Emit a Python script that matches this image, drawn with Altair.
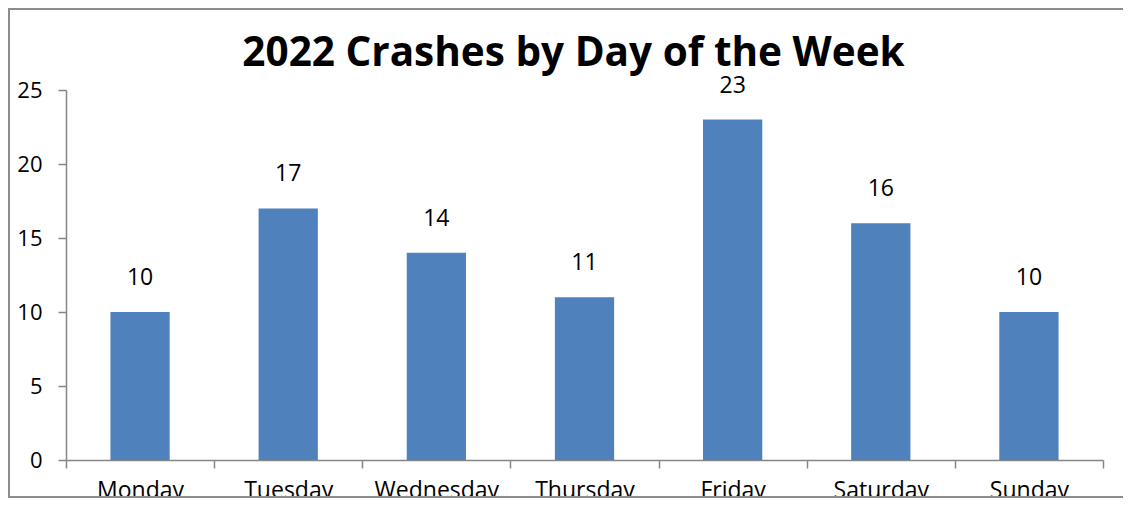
import altair as alt
import pandas as pd

days = ["Monday", "Tuesday", "Wednesday", "Thursday", "Friday", "Saturday", "Sunday"]
crashes = [10, 17, 14, 11, 23, 16, 10]
title_text = "2022 Crashes by Day of the Week"

df = pd.DataFrame({"day": days, "crashes": crashes})

FONT = "Open Sans"
GRAY = "#868686"
FRAME = "#8c8c8c"

base = alt.Chart(df)

x_enc = alt.X(
    "day:N",
    sort=days,
    scale=alt.Scale(paddingInner=0, paddingOuter=0),
    axis=alt.Axis(
        title=None,
        labelAngle=0,
        tickBand="extent",
        tickSize=8,
        tickWidth=1.5,
        tickColor=GRAY,
        domainColor=GRAY,
        domainWidth=1.5,
        labelPadding=11,
        labelFontSize=23,
        labelFont=FONT,
        labelColor="black",
    ),
)
y_enc = alt.Y(
    "crashes:Q",
    scale=alt.Scale(domain=[0, 25], nice=False),
    axis=alt.Axis(
        title=None,
        values=[0, 5, 10, 15, 20, 25],
        grid=False,
        tickSize=8,
        tickWidth=1.5,
        tickColor=GRAY,
        domainColor=GRAY,
        domainWidth=1.5,
        labelPadding=16,
        labelFontSize=22,
        labelFont=FONT,
        labelColor="black",
    ),
)

bars = base.mark_bar(color="#4F81BD", width=alt.RelativeBandSize(0.4)).encode(x=x_enc, y=y_enc)
labels = base.mark_text(
    dy=-27, baseline="alphabetic", fontSize=23, font=FONT, color="black"
).encode(x=alt.X("day:N", sort=days), y="crashes:Q", text="crashes:Q")

one = alt.Data(values=[{}])
left_line = alt.Chart(one).mark_rule(color=FRAME, strokeWidth=2).encode(
    x=alt.value(-57), y=alt.value(-81), y2=alt.value(407)
)
top_line = alt.Chart(one).mark_rule(color=FRAME, strokeWidth=2).encode(
    x=alt.value(-58), x2=alt.value(1057), y=alt.value(-81)
)
bottom_line = alt.Chart(one).mark_rule(color=FRAME, strokeWidth=2).encode(
    x=alt.value(-58), x2=alt.value(1057), y=alt.value(407)
)
title = alt.Chart(one).mark_text(
    fontSize=40.5, font=FONT, fontWeight="bold", color="black",
    baseline="alphabetic", align="center",
).encode(
    x=alt.value(1037 / 2 - 11), y=alt.value(-24), text=alt.value(title_text)
)

chart = (
    alt.layer(left_line, top_line, bottom_line, title, bars, labels)
    .properties(
        width=1037,
        height=370,
        autosize=alt.AutoSizeParams(type="none"),
        padding={"left": 58, "top": 82, "right": 20, "bottom": 38},
    )
    .configure_view(strokeWidth=0)
)

chart.save("out.html", embed_options={"renderer": "svg", "actions": False})
